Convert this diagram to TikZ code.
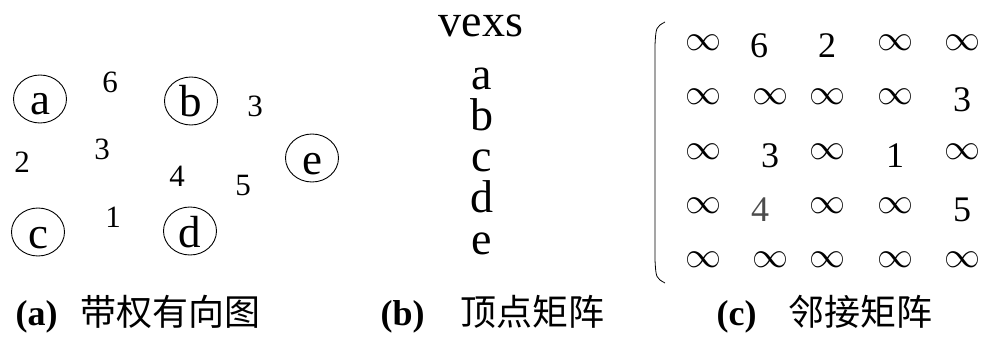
\documentclass[tikz,border=0pt]{standalone}
\usepackage{fix-cm}
\usepackage{fontspec}
\setmainfont{Liberation Serif}
\newfontfamily\cjk{Noto Sans CJK SC}
\usetikzlibrary{shapes.geometric, positioning}

% infinity raised to sit level with the digits
\newcommand{\infsym}{\raisebox{0.22em}{$\infty$}}

\begin{document}
\begin{tikzpicture}[
    x=1pt, y=1pt,
    vertex/.style={draw, ellipse, line width=0.9pt, minimum width=53pt,
                   minimum height=48pt, inner sep=0pt, text height=32pt,
                   text depth=0pt, font=\fontsize{45}{50}\selectfont},
    weight/.style={font=\fontsize{31}{34}\selectfont},
    vexs/.style={anchor=base, inner sep=0pt, font=\fontsize{46}{50}\selectfont},
    cell/.style={anchor=base, inner sep=0pt, font=\fontsize{36}{40}\selectfont},
    tag/.style={anchor=base west, font=\fontsize{36}{40}\selectfont\bfseries},
    captext/.style={anchor=base west, font=\fontsize{36}{40}\selectfont\cjk}
  ]
  \useasboundingbox (0,0) rectangle (986,338);

  % Weighted digraph: vertices
  \node[vertex] (a) at (40,239) {a};
  \node[vertex] (b) at (191,237) {b};
  \node[vertex] (c) at (38,106) {c};
  \node[vertex] (d) at (190,107) {d};
  \node[vertex] (e) at (312,180) {e};

  % Weights
  \node[weight] (w-ab) at (110,256) {6};
  \node[weight] (w-be) at (255,232) {3};
  \node[weight] (w-ac) at (22,176) {2};
  \node[weight] (w-cb) at (102,189) {3};
  \node[weight] (w-db) at (177,162) {4};
  \node[weight] (w-de) at (243,152) {5};
  \node[weight] (w-cd) at (113,121) {1};

  % Vertex array
  \node[vexs] (vexs) at (481,301) {vexs};
  \foreach \v/\y in {a/248, b/207, c/166, d/125, e/84}
    \node[vexs] (v-\v) at (482,\y) {\v};

  % Adjacency matrix
  \coordinate (paren-top) at (665,316);
  \coordinate (paren-bot) at (665,55);
  \draw[line width=0.8pt] (paren-top) .. controls (656,311) .. (655,293)
    -- (655,78) .. controls (656,60) .. (paren-bot);

  \foreach \x/\t [count=\c] in {703/\infsym, 759/6, 827/2, 895/\infsym, 962/\infsym}
    \node[cell] (m1-\c) at (\x,280) {\t};
  \foreach \x/\t [count=\c] in {703/\infsym, 770/\infsym, 827/\infsym, 895/\infsym, 962/3}
    \node[cell] (m2-\c) at (\x,226) {\t};
  \foreach \x/\t [count=\c] in {703/\infsym, 770/3, 827/\infsym, 895/1, 962/\infsym}
    \node[cell] (m3-\c) at (\x,171) {\t};
  \foreach \x/\t [count=\c] in {703/\infsym, 760/{\color{black!70}4}, 827/\infsym, 895/\infsym, 962/5}
    \node[cell] (m4-\c) at (\x,117) {\t};
  \foreach \x/\t [count=\c] in {703/\infsym, 770/\infsym, 827/\infsym, 895/\infsym, 962/\infsym}
    \node[cell] (m5-\c) at (\x,63) {\t};

  % Captions
  \node[tag] (tag-a) at (12,13) {(a)};
  \node[captext] (cap-a) at (77,13) {带权有向图};
  \node[tag] (tag-b) at (377,13) {(b)};
  \node[captext] (cap-b) at (457,13) {顶点矩阵};
  \node[tag] (tag-c) at (713,13) {(c)};
  \node[captext] (cap-c) at (785,13) {邻接矩阵};

\end{tikzpicture}
\end{document}
